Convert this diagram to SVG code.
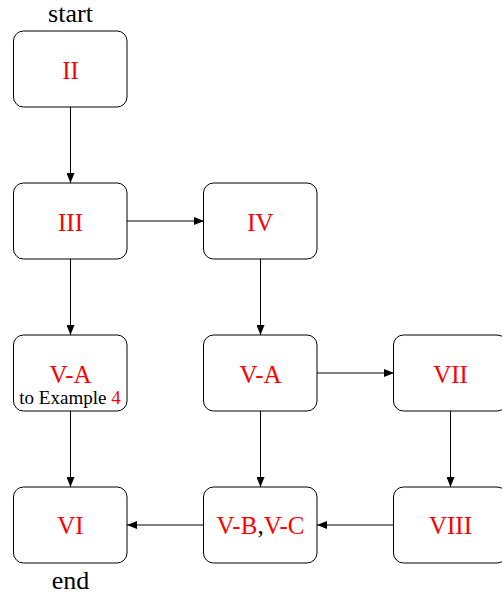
<svg xmlns="http://www.w3.org/2000/svg" width="502" height="593" viewBox="0 0 502 593">
<style>
.box{fill:#fff;stroke:#000;stroke-width:1}
.lbl{font-family:"Liberation Serif","Times New Roman",serif;font-size:25px;fill:#ff0000;text-anchor:middle}
.plain{font-family:"Liberation Serif","Times New Roman",serif;font-size:26px;fill:#000;text-anchor:middle}
.small{font-family:"Liberation Serif","Times New Roman",serif;font-size:19px;fill:#000;text-anchor:middle}
.edge{stroke:#000;stroke-width:1;fill:none;marker-end:url(#arr)}
</style>
<defs>
<marker id="arr" viewBox="0 0 10 8" refX="10" refY="4" markerWidth="10" markerHeight="8" markerUnits="userSpaceOnUse" orient="auto">
<path d="M0,0 L10,4 L0,8 Z" fill="#000"/>
</marker>
</defs>
<text class="plain" x="70.5" y="21.5">start</text>
<text class="plain" x="70.5" y="588.5">end</text>
<g id="connectors">
<line class="edge" x1="70.5" y1="107" x2="70.5" y2="183"/>
<line class="edge" x1="127" y1="221" x2="204" y2="221"/>
<line class="edge" x1="70.5" y1="259" x2="70.5" y2="335"/>
<line class="edge" x1="260.5" y1="259" x2="260.5" y2="335"/>
<line class="edge" x1="317" y1="373" x2="394" y2="373"/>
<line class="edge" x1="70.5" y1="411" x2="70.5" y2="487"/>
<line class="edge" x1="260.5" y1="411" x2="260.5" y2="487"/>
<line class="edge" x1="450.5" y1="411" x2="450.5" y2="487"/>
<line class="edge" x1="394" y1="525" x2="317" y2="525"/>
<line class="edge" x1="204" y1="525" x2="127" y2="525"/>
</g>
<g id="n-II"><rect class="box" x="13.5" y="31" width="113.5" height="76" rx="10"/><text class="lbl" x="70.5" y="78.5">II</text></g>
<g id="n-III"><rect class="box" x="13.5" y="183" width="113.5" height="76" rx="10"/><text class="lbl" x="70.5" y="230.5">III</text></g>
<g id="n-IV"><rect class="box" x="203.5" y="183" width="113.5" height="76" rx="10"/><text class="lbl" x="260.5" y="230.5">IV</text></g>
<g id="n-VA-left"><rect class="box" x="13.5" y="335" width="113.5" height="76" rx="10"/><text class="lbl" x="70.5" y="382.5">V-A</text><text class="small" x="70" y="403.5">to Example <tspan fill="#ff0000">4</tspan></text></g>
<g id="n-VA-mid"><rect class="box" x="203.5" y="335" width="113.5" height="76" rx="10"/><text class="lbl" x="260.5" y="382.5">V-A</text></g>
<g id="n-VII"><rect class="box" x="393.5" y="335" width="113.5" height="76" rx="10"/><text class="lbl" x="450.5" y="382.5">VII</text></g>
<g id="n-VI"><rect class="box" x="13.5" y="487" width="113.5" height="76" rx="10"/><text class="lbl" x="70.5" y="534">VI</text></g>
<g id="n-VBVC"><rect class="box" x="203.5" y="487" width="113.5" height="76" rx="10"/><text class="lbl" x="260.5" y="534">V-B<tspan fill="#000">,</tspan>V-C</text></g>
<g id="n-VIII"><rect class="box" x="393.5" y="487" width="113.5" height="76" rx="10"/><text class="lbl" x="450.5" y="534">VIII</text></g>
</svg>
